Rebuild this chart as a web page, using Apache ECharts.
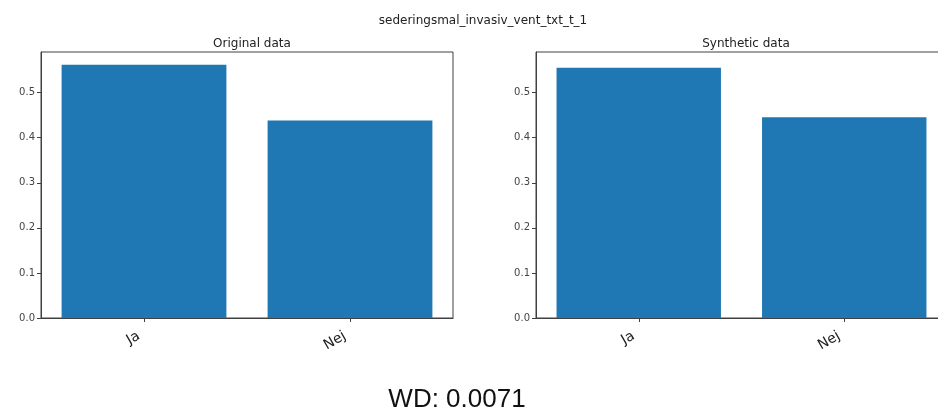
<!DOCTYPE html>
<html>
<head>
<meta charset="utf-8">
<script src="https://cdn.jsdelivr.net/npm/echarts@6/dist/echarts.min.js"></script>
<style>
  html, body { margin: 0; padding: 0; background: #fff; }
  #chart { width: 938px; height: 414px; }
</style>
</head>
<body>
<div id="chart"></div>
<script>
// Category shares for the variable, original vs synthetic
const categories = ['Ja', 'Nej'];
const originalValues = [0.5620, 0.4380];
const syntheticValues = [0.5549, 0.4451];
const yTickValues = [0, 0.1, 0.2, 0.3, 0.4, 0.5];
const yTickLabels = ['0.0', '0.1', '0.2', '0.3', '0.4', '0.5'];
const mainTitle = 'sederingsmal_invasiv_vent_txt_t_1';
const panelTitles = ['Original data', 'Synthetic data'];
const wdText = 'WD: 0.0071';

const BAR_COLOR = '#1f77b4';
const AXIS_COLOR = '#404040';
const FONT = 'DejaVu Sans';

// both panels share one y range, padded 5% above the tallest bar
const sharedMax = Math.max(...originalValues, ...syntheticValues) * 1.05;

const chart = echarts.init(document.getElementById('chart'), null, { renderer: 'canvas' });

function yAxis(gridIndex) {
  return {
    type: 'value',
    gridIndex: gridIndex,
    min: 0,
    max: sharedMax,
    splitLine: { show: false },
    axisLine: { show: true, lineStyle: { color: AXIS_COLOR, width: 1 } },
    axisTick: {
      show: true, length: 4, inside: false,
      customValues: yTickValues,
      lineStyle: { color: AXIS_COLOR, width: 1 }
    },
    axisLabel: {
      customValues: yTickValues,
      formatter: v => yTickLabels[yTickValues.findIndex(t => Math.abs(t - v) < 1e-9)] ?? '',
      fontFamily: FONT, fontSize: 10, color: '#444', margin: 6
    }
  };
}

function xAxis(gridIndex) {
  return {
    type: 'category',
    gridIndex: gridIndex,
    data: categories,
    axisLine: { show: true, lineStyle: { color: AXIS_COLOR, width: 1 } },
    axisTick: { show: true, alignWithLabel: true, length: 4, lineStyle: { color: AXIS_COLOR, width: 1 } },
    axisLabel: {
      rotate: 30, fontFamily: FONT, fontSize: 14, color: '#222',
      margin: 14, padding: [0, 6, 0, 0]
    },
    splitLine: { show: false }
  };
}

const option = {
  backgroundColor: '#ffffff',
  animation: false,
  title: [
    {
      text: mainTitle, left: 478, top: 10, textAlign: 'center',
      textStyle: { fontFamily: FONT, fontSize: 12, fontWeight: 'normal', color: '#222' }
    },
    {
      text: panelTitles[0], left: 247, top: 33, textAlign: 'center',
      textStyle: { fontFamily: FONT, fontSize: 12, fontWeight: 'normal', color: '#222' }
    },
    {
      text: panelTitles[1], left: 741, top: 33, textAlign: 'center',
      textStyle: { fontFamily: FONT, fontSize: 12, fontWeight: 'normal', color: '#222' }
    },
    {
      text: wdText, left: 452, top: 382, textAlign: 'center',
      textStyle: { fontFamily: 'Liberation Sans', fontSize: 26, fontWeight: 'normal', color: '#111' }
    }
  ],
  grid: [
    {
      left: 41, top: 52, width: 412, height: 266, outerBoundsMode: 'none',
      show: true, borderColor: AXIS_COLOR, borderWidth: 1, backgroundColor: 'transparent'
    },
    {
      left: 536, top: 52, width: 411, height: 266, outerBoundsMode: 'none',
      show: true, borderColor: AXIS_COLOR, borderWidth: 1, backgroundColor: 'transparent'
    }
  ],
  xAxis: [xAxis(0), xAxis(1)],
  yAxis: [yAxis(0), yAxis(1)],
  series: [
    {
      type: 'bar', xAxisIndex: 0, yAxisIndex: 0,
      data: originalValues, barWidth: '80%',
      itemStyle: { color: BAR_COLOR }
    },
    {
      type: 'bar', xAxisIndex: 1, yAxisIndex: 1,
      data: syntheticValues, barWidth: '80%',
      itemStyle: { color: BAR_COLOR }
    }
  ]
};

chart.setOption(option);
</script>
</body>
</html>
